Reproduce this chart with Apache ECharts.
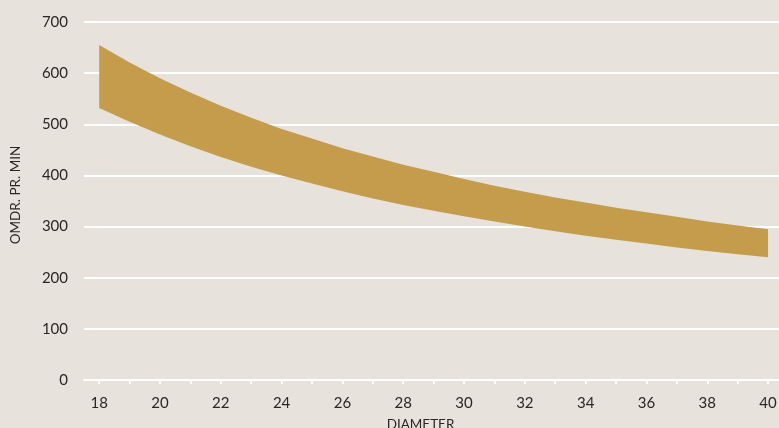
<!DOCTYPE html>
<html>
<head>
<meta charset="utf-8">
<script src="https://cdn.jsdelivr.net/npm/echarts@6/dist/echarts.min.js"></script>
<style>
	html, body { margin: 0; padding: 0; background: #e8e2dc; }
	#chart { width: 779px; height: 428px; }
</style>
</head>
<body>
<div id="chart"></div>
<script>
// diameter vs. omdr. pr. min, band between low and high speed
var diameters = [18, 19, 20, 21, 22, 23, 24, 25, 26, 27, 28, 29, 30, 31, 32, 33, 34, 35, 36, 37, 38, 39, 40];
var upperRpm = [655, 621, 590, 562, 536, 513, 491, 472, 453, 437, 421, 407, 393, 380, 368, 357, 347, 337, 328, 319, 310, 302, 295];
var lowerRpm = [532, 505, 480, 457, 436, 417, 400, 384, 369, 355, 342, 331, 320, 310, 300, 291, 282, 274, 267, 259, 252, 246, 240];
var xTicks = [18, 19, 20, 21, 22, 23, 24, 25, 26, 27, 28, 29, 30, 31, 32, 33, 34, 35, 36, 37, 38, 39, 40];
var xLabels = [18, 20, 22, 24, 26, 28, 30, 32, 34, 36, 38, 40];

!function(){
	var dom = document.getElementById("chart");
	var myChart = echarts.init(dom);

	var bandData = [];
	for (var i = 0; i < diameters.length; i++) {
		bandData.push([diameters[i], lowerRpm[i], upperRpm[i]]);
	}

	// draws the whole band as one polygon, upper edge forward, lower edge back
	function renderBand(params, api) {
		if (params.dataIndexInside !== 0) return;
		var n = bandData.length;
		var pts = [];
		for (var i = 0; i < n; i++) {
			pts.push(api.coord([api.value(0, i), api.value(2, i)]));
		}
		for (var j = n - 1; j >= 0; j--) {
			pts.push(api.coord([api.value(0, j), api.value(1, j)]));
		}
		return {
			type: 'polygon',
			shape: {points: pts},
			style: {fill: '#c49c4b', stroke: null}
		};
	}

	var textColor = '#2a2725';
	var font = 'Lato, "Open Sans", sans-serif';

	var option = {
		backgroundColor: '#e8e2dc',
		animation: false,
		grid: {
			left: 84,
			right: 0,
			top: 22,
			bottom: 48,
			containLabel: false,
			outerBoundsMode: 'none'
		},
		xAxis: {
			type: 'value',
			min: 17.5,
			max: 40.36,
			name: 'DIAMETER',
			nameLocation: 'middle',
			nameGap: 38,
			nameTextStyle: {
				color: textColor,
				fontSize: 13.5,
				fontFamily: font,
				padding: [0, 22, 0, 0]
			},
			axisLine: {
				show: true,
				lineStyle: {color: '#ffffff', width: 2}
			},
			axisTick: {
				show: true,
				customValues: xTicks,
				length: 4,
				lineStyle: {color: '#ffffff', width: 2}
			},
			axisLabel: {
				customValues: xLabels,
				margin: 16,
				color: textColor,
				fontSize: 15,
				fontFamily: font
			},
			splitLine: {show: false}
		},
		yAxis: {
			type: 'value',
			min: 0,
			max: 700,
			interval: 100,
			name: 'OMDR. PR. MIN',
			nameLocation: 'middle',
			nameGap: 61,
			nameTextStyle: {
				color: textColor,
				fontSize: 13.5,
				fontFamily: font,
				padding: [0, 0, 0, 12]
			},
			axisLine: {show: false},
			axisTick: {show: false},
			axisLabel: {
				margin: 16,
				color: textColor,
				fontSize: 15,
				fontFamily: font
			},
			splitLine: {
				lineStyle: {color: '#ffffff', width: 2}
			}
		},
		series: [
			{
				name: 'omdr',
				type: 'custom',
				renderItem: renderBand,
				data: bandData,
				encode: {x: 0, y: [1, 2]},
				silent: true
			}
		]
	};

	myChart.setOption(option, true);
}();
</script>
</body>
</html>
